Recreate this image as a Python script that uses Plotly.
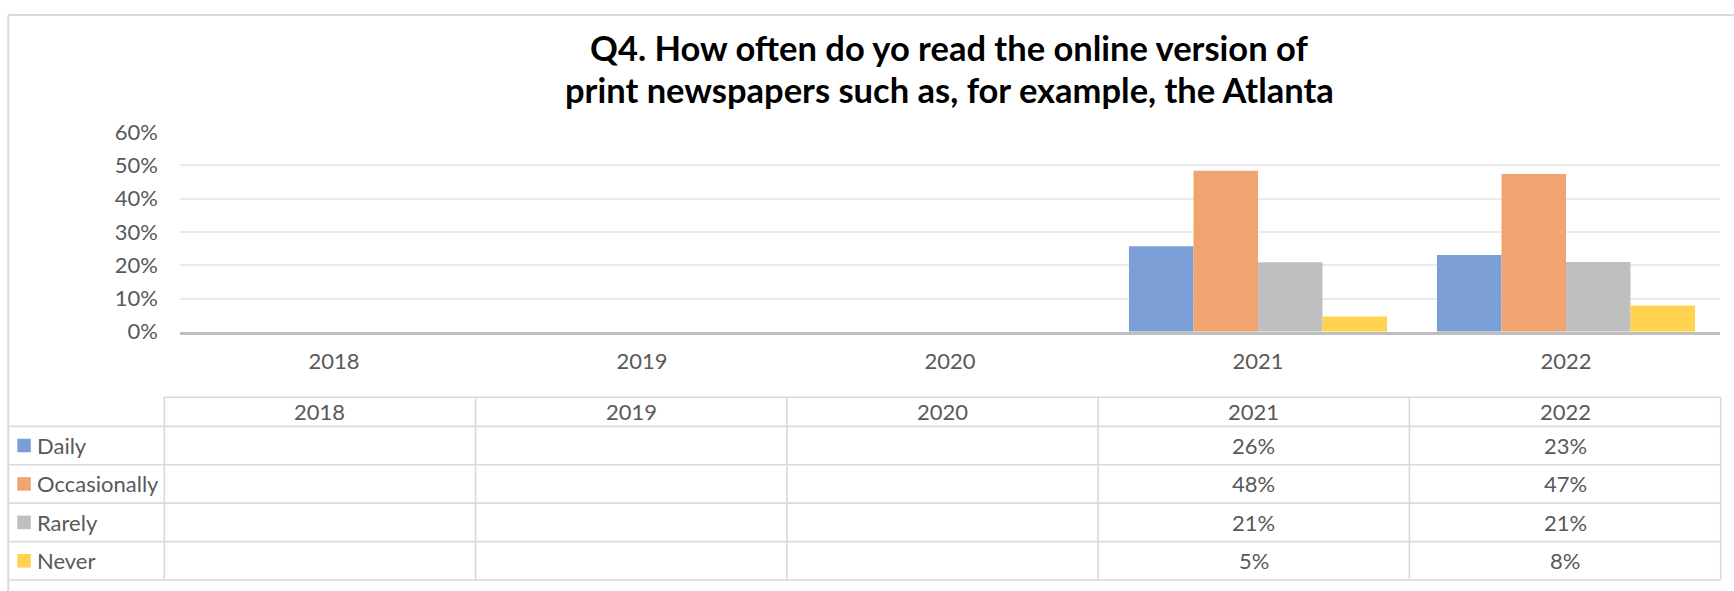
import plotly.graph_objects as go

# ---------------- data ----------------
years = ["2018", "2019", "2020", "2021", "2022"]
series_names = ["Daily", "Occasionally", "Rarely", "Never"]
daily = [None, None, None, 0.257, 0.231]
occasionally = [None, None, None, 0.484, 0.474]
rarely = [None, None, None, 0.209, 0.210]
never = [None, None, None, 0.046, 0.079]
y_ticks = [0, 0.1, 0.2, 0.3, 0.4, 0.5, 0.6]
title_lines = ["Q4. How often do yo read the online version of",
               "print newspapers such as, for example, the Atlanta"]

colors = ["#7C9ED6", "#F0A46F", "#BFBFBF", "#FFD34F"]
series_values = [daily, occasionally, rarely, never]

# ---------------- geometry ----------------
# positions are measured in the reference frame (1734x591) and mapped to the
# figure frame to compensate the capture offset/scale
W = 1734
H = 607
OFF_Y, K_Y = 15.8, 0.9517
FONT = "Lato"
TXT = "#595959"
LINE = "#D9D9D9"


def fx(x):
    return x / W


def to_raw(y_ref):
    return (y_ref - OFF_Y) / K_Y


def fy(y_ref):
    return 1 - to_raw(y_ref) / H


def fy_raw(y):
    return 1 - y / H


plot_left, plot_right = 180, 1720
plot_top, plot_bottom = 133.5, 332.3

table_rows = [397.5, 426.5, 464.7, 503.0, 541.3, 579.5]
table_left, table_right = 164.3, 1720.7
label_left = 9
col_w = (table_right - table_left) / len(years)
table_cols = [table_left + i * col_w for i in range(len(years) + 1)]

fig = go.Figure()
for name, vals, c in zip(series_names, series_values, colors):
    fig.add_trace(go.Bar(x=years, y=vals, name=name,
                         marker=dict(color=c, line=dict(width=0))))

shapes = []
annotations = []

# chart outer border (left and top visible)
shapes.append(dict(type="line", xref="paper", yref="paper",
                   x0=fx(8.3), x1=fx(W + 5), y0=fy_raw(1), y1=fy_raw(1),
                   line=dict(color=LINE, width=2)))
shapes.append(dict(type="line", xref="paper", yref="paper",
                   x0=fx(8.3), x1=fx(8.3), y0=fy_raw(1), y1=fy_raw(H + 5),
                   line=dict(color=LINE, width=2)))

# table horizontal lines
for i, ry in enumerate(table_rows):
    x0 = table_left if i == 0 else label_left
    shapes.append(dict(type="line", xref="paper", yref="paper",
                       x0=fx(x0), x1=fx(table_right), y0=fy(ry), y1=fy(ry),
                       line=dict(color=LINE, width=1.6)))
# table vertical lines
for cx in table_cols:
    shapes.append(dict(type="line", xref="paper", yref="paper",
                       x0=fx(cx), x1=fx(cx), y0=fy(table_rows[0]), y1=fy(table_rows[-1]),
                       line=dict(color=LINE, width=1.6)))

# header row: years
for j, yr in enumerate(years):
    cxm = (table_cols[j] + table_cols[j + 1]) / 2
    cym = (table_rows[0] + table_rows[1]) / 2
    annotations.append(dict(xref="paper", yref="paper", x=fx(cxm), y=fy(cym),
                            text=yr, showarrow=False, xanchor="center", yanchor="middle",
                            font=dict(family=FONT, size=22, color=TXT)))

# series rows
sq = 13.5
for i, (name, vals, c) in enumerate(zip(series_names, series_values, colors)):
    cym = (table_rows[i + 1] + table_rows[i + 2]) / 2
    shapes.append(dict(type="rect", xref="paper", yref="paper",
                       x0=fx(17.3), x1=fx(17.3 + sq), y0=fy(cym - sq / 2), y1=fy(cym + sq / 2),
                       fillcolor=c, line=dict(width=0)))
    annotations.append(dict(xref="paper", yref="paper", x=fx(35), y=fy(cym),
                            text=name, showarrow=False, xanchor="left", yanchor="middle",
                            font=dict(family=FONT, size=22, color=TXT)))
    for j, v in enumerate(vals):
        if v is None:
            continue
        cxm = (table_cols[j] + table_cols[j + 1]) / 2
        annotations.append(dict(xref="paper", yref="paper", x=fx(cxm), y=fy(cym),
                                text=f"{v:.0%}", showarrow=False, xanchor="center",
                                yanchor="middle",
                                font=dict(family=FONT, size=22, color=TXT)))

# title (two lines, placed separately)
for line_text, ly in zip(title_lines, [48.7, 90.7]):
    annotations.append(dict(xref="paper", yref="paper", x=fx(949), y=fy(ly),
                            text=line_text, showarrow=False,
                            xanchor="center", yanchor="middle",
                            font=dict(family=FONT, size=34.5, color="#000000", weight="bold")))

fig.update_layout(
    width=W, height=H,
    margin=dict(l=0, r=0, t=0, b=0),
    paper_bgcolor="white", plot_bgcolor="white",
    barmode="group", bargap=0.162, bargroupgap=0,
    showlegend=False,
    shapes=shapes, annotations=annotations,
    xaxis=dict(domain=[fx(plot_left), fx(plot_right)], showgrid=False,
               showline=True, linecolor="#BFBFBF", linewidth=2.5,
               ticks="", ticklabelstandoff=8,
               tickfont=dict(family=FONT, size=22, color=TXT)),
    yaxis=dict(domain=[fy(plot_bottom), fy(plot_top)], range=[0, 0.6],
               tickvals=y_ticks, tickformat=".0%",
               showgrid=True, gridcolor="#EBEBEB", gridwidth=1.5,
               zeroline=False, showline=False, ticks="",
               ticklabelstandoff=21,
               tickfont=dict(family=FONT, size=22, color=TXT)),
)

post = ("document.documentElement.style.margin='0';"
        "document.documentElement.style.padding='0';"
        "document.documentElement.style.overflow='hidden';"
        "document.body.style.margin='0';document.body.style.padding='0';"
        "document.body.style.overflow='hidden';")

fig.write_html("out.html", config={"displayModeBar": False}, post_script=post)
